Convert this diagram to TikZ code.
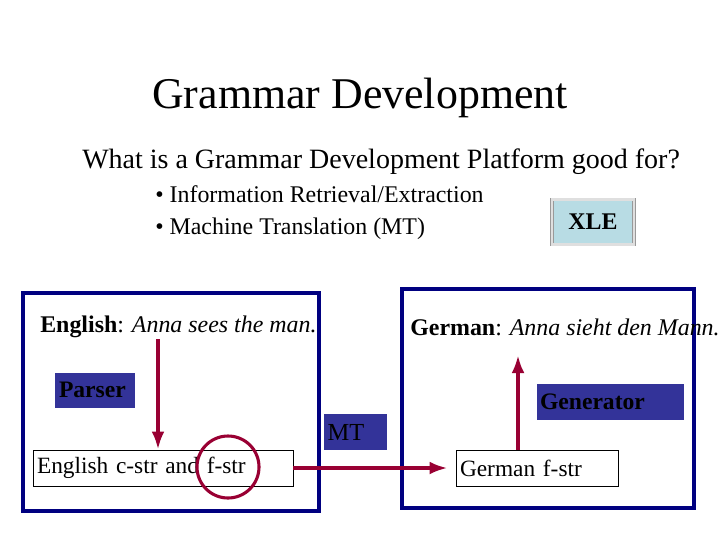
\documentclass[tikz,border=0pt]{standalone}
\usepackage{fontspec}
\setmainfont{Liberation Serif}
\usepackage{tikz}
\usetikzlibrary{arrows.meta,positioning,calc}
\definecolor{SlideNavy}{HTML}{000080}
\definecolor{SlideButton}{HTML}{333399}
\definecolor{SlideRed}{HTML}{990033}
\definecolor{SlideCyan}{HTML}{B8DCE4}

\begin{document}
\begin{tikzpicture}[
    x=0.025cm, y=-0.025cm,
    flow/.style={-{Latex[length=4.5mm,width=3.2mm]}, line width=2.6pt, draw=SlideRed},
    panel/.style={draw=SlideNavy, line width=2.8pt},
    button/.style={fill=SlideButton, font=\fontsize{16.8}{17}\selectfont\bfseries,
      text=black, inner sep=0pt, align=left},
    strbox/.style={draw=black, line width=0.5pt, inner sep=0pt, font=\fontsize{16.6}{17}\selectfont,
      minimum height=36*0.025cm, align=left},
    sentence/.style={anchor=west, inner sep=0pt, font=\fontsize{17}{18}\selectfont}
  ]
    \useasboundingbox[fill=white] (0,0) rectangle (720,540);

    % title and question
    \node[font=\fontsize{31.2}{32}\selectfont] (title) at (360,98) {Grammar Development};
    \node[anchor=west, inner sep=0pt, font=\fontsize{19.9}{21}\selectfont] (question) at (82,162)
      {What is a Grammar Development Platform good for?};
    \node[anchor=west, inner sep=0pt, font=\fontsize{17}{18}\selectfont] (ir) at (155,194)
      {\textbullet\ Information Retrieval/Extraction};
    \node[anchor=west, inner sep=0pt, font=\fontsize{17}{18}\selectfont] (mtitem) at (155,229)
      {\textbullet\ Machine Translation (MT)};
    \node[fill=SlideCyan, draw=gray!80, double=gray!25, double distance=1.6pt, line width=0.5pt,
      minimum width=82*0.025cm, minimum height=45*0.025cm, font=\fontsize{17}{18}\selectfont\bfseries]
      (xle) at (593,222) {XLE};

    % the two language panels
    \draw[panel] (23,293) rectangle (319,511);
    \draw[panel] (402,289) rectangle (694,508);

    \node[sentence] (engsent) at (40,327) {\textbf{English}: \textit{Anna sees the man.}};
    \node[sentence] (gersent) at (410,327) {\textbf{German}: \textit{Anna sieht den Mann.}};

    \node[button, minimum width=80*0.025cm, minimum height=35*0.025cm, text width=72*0.025cm]
      (parser) at (95,390) {Parser};
    \node[button, minimum width=147*0.025cm, minimum height=36*0.025cm, text width=140*0.025cm]
      (generator) at (610,402) {Generator};
    \node[button, font=\fontsize{17.4}{18}\selectfont, minimum width=63*0.025cm,
      minimum height=36*0.025cm, text width=55*0.025cm] (mt) at (355,432) {MT};

    \node[strbox, minimum width=260*0.025cm, text width=252*0.025cm] (cstr) at (163,468)
      {English c-str and f-str};
    \node[strbox, minimum width=162*0.025cm, text width=154*0.025cm] (fstr) at (537,468)
      {German f-str};

    \coordinate (parsetop) at (158,339);
    \coordinate (gentop) at (518,355);
    \draw[flow] (parsetop) -- (parsetop |- cstr.north);
    \draw[flow] (gentop |- fstr.north) -- (gentop);
    \draw[flow, shorten >=8*0.025cm] (cstr.east) -- (fstr.west);

    \node[circle, draw=SlideRed, line width=2.2pt, minimum size=62*0.025cm] (focus) at (228,467) {};
  \end{tikzpicture}
\end{document}
